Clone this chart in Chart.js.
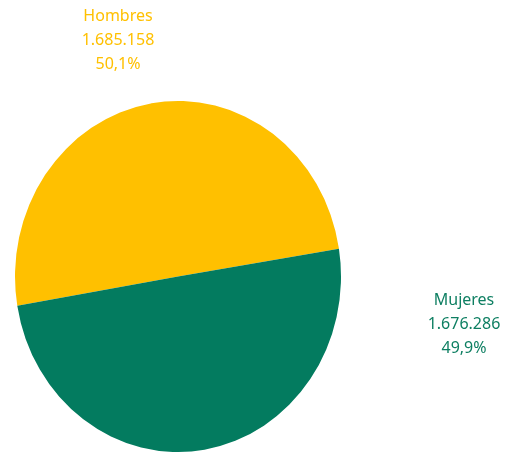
<!DOCTYPE html>
<html>
<head>
<meta charset="utf-8">
<script src="https://cdn.jsdelivr.net/npm/chart.js@4/dist/chart.umd.min.js"></script>
<style>
    html, body { margin: 0; padding: 0; background: #fff; }
    #wrap { width: 506px; height: 452px; position: relative; }
</style>
</head>
<body>
<div id="wrap"><canvas id="chart"></canvas></div>
<script>
// ── Data ─────────────────────────────────────────────────────────────────────

const categories = ['Hombres', 'Mujeres'];
const values = [1685158, 1676286];
const sliceColors = ['#FFC000', '#037B5F'];
const labelColors = ['#FFC000', '#0E7F62'];

const total = values.reduce((a, b) => a + b, 0);

function fmtThousands(n) {
    return String(n).replace(/\B(?=(\d{3})+(?!\d))/g, '.');
}

function fmtPct(v) {
    return (v / total * 100).toFixed(1).replace('.', ',') + '%';
}

// ── Plugins ──────────────────────────────────────────────────────────────────

// the source pie is slightly taller than wide: stretch the arcs vertically
const Y_STRETCH = 175.5 / 163;

const ellipsePie = {
    id: 'ellipsePie',
    beforeDatasetsDraw(chart) {
        const arc = chart.getDatasetMeta(0).data[0];
        const ctx = chart.ctx;
        ctx.save();
        ctx.translate(arc.x, arc.y);
        ctx.scale(1, Y_STRETCH);
        ctx.translate(-arc.x, -arc.y);
    },
    afterDatasetsDraw(chart) {
        chart.ctx.restore();
    },
};

// label offsets from the pie centre, one per slice
const LABEL_OFFSETS = [[-60, -256], [286, 28]];

const sliceLabels = {
    id: 'sliceLabels',
    afterDraw(chart) {
        const ctx = chart.ctx;
        const arc = chart.getDatasetMeta(0).data[0];
        ctx.save();
        ctx.font = '16px "Noto Sans"';
        ctx.textAlign = 'center';
        ctx.textBaseline = 'alphabetic';
        categories.forEach((name, i) => {
            const [dx, dy] = LABEL_OFFSETS[i];
            const lines = [name, fmtThousands(values[i]), fmtPct(values[i])];
            ctx.fillStyle = labelColors[i];
            lines.forEach((line, j) => {
                ctx.fillText(line, arc.x + dx, arc.y + dy + j * 24);
            });
        });
        ctx.restore();
    },
};

// ── Chart ────────────────────────────────────────────────────────────────────

new Chart(document.getElementById('chart'), {
    type: 'pie',
    data: {
        labels: categories,
        datasets: [{
            data: values,
            backgroundColor: sliceColors,
            borderWidth: 0,
            clip: false,
        }],
    },
    options: {
        responsive: true,
        maintainAspectRatio: false,
        animation: false,
        rotation: 260.4,
        layout: {
            padding: { left: 15, right: 165, top: 113.5, bottom: 12.5 },
        },
        plugins: {
            legend: { display: false },
            tooltip: { enabled: false },
        },
    },
    plugins: [ellipsePie, sliceLabels],
});
</script>
</body>
</html>
